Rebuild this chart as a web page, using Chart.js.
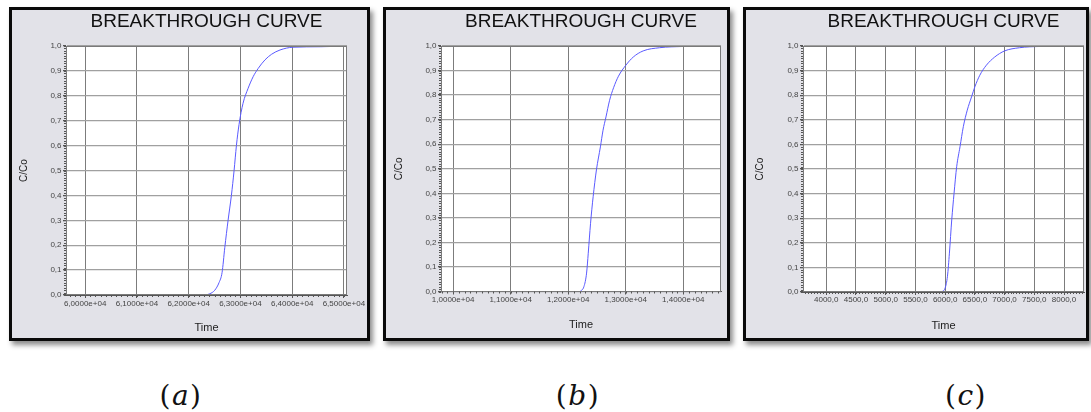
<!DOCTYPE html>
<html>
<head>
<meta charset="utf-8">
<script src="https://cdn.jsdelivr.net/npm/chart.js@4/dist/chart.umd.min.js"></script>
<style>
  html, body { margin:0; padding:0; background:#fff; width:1091px; height:412px; overflow:hidden; }
  .frame { position:absolute; box-sizing:border-box; border:3px solid #0a0a0a; background:#e2e2e8;
           box-shadow:3px 4px 5px rgba(0,0,0,0.45); }
  .frame canvas { position:absolute; left:0; top:0; }
  .cap { position:absolute; font-family:"DejaVu Serif","Liberation Serif",serif; font-size:28px; color:#111;
         transform:translate(-50%,-50%); white-space:nowrap; letter-spacing:1.5px; }
  .cap i { font-style:italic; }
</style>
</head>
<body>
<div class="frame" id="fa" style="left:9px;top:7px;width:361px;height:334px;"><canvas id="ca" width="355" height="328"></canvas></div>
<div class="frame" id="fb" style="left:383px;top:7px;width:347px;height:334px;"><canvas id="cb" width="341" height="328"></canvas></div>
<div class="frame" id="fc" style="left:743px;top:7px;width:346px;height:334px;"><canvas id="cc" width="340" height="328"></canvas></div>
<div class="cap" style="left:181px;top:395px;">(<i>a</i>)</div>
<div class="cap" style="left:578px;top:395px;">(<i>b</i>)</div>
<div class="cap" style="left:966px;top:395px;">(<i>c</i>)</div>
<script>
// ---- data ----
const titleText = "BREAKTHROUGH CURVE";
const yLabel = "C/Co";
const xLabel = "Time";

const timeA = [62250, 62279, 62408, 62504, 62588, 62646, 62698, 62762, 62826, 62878, 62923, 62974, 63051, 63149, 63247, 63344, 63474, 63604, 63766, 64013, 64546, 65050];
const ccoA  = [0, 0, 0.005, 0.019, 0.05, 0.09, 0.19, 0.30, 0.40, 0.50, 0.60, 0.685, 0.77, 0.83, 0.877, 0.91, 0.944, 0.967, 0.984, 0.995, 0.997, 1.0];

const timeB = [12206, 12274, 12320, 12349, 12389, 12434, 12491, 12560, 12606, 12657, 12720, 12789, 12874, 13000, 13131, 13303, 13589, 13989, 14600];
const ccoB  = [0, 0.02, 0.075, 0.156, 0.278, 0.386, 0.495, 0.589, 0.657, 0.711, 0.779, 0.830, 0.877, 0.921, 0.955, 0.980, 0.993, 0.998, 1.0];

const timeC = [5944, 6000, 6039, 6072, 6111, 6150, 6194, 6250, 6306, 6372, 6444, 6500, 6583, 6694, 6833, 7000, 7250, 7583, 8028, 8330];
const ccoC  = [0, 0.016, 0.064, 0.158, 0.293, 0.401, 0.509, 0.59, 0.672, 0.739, 0.793, 0.834, 0.881, 0.922, 0.955, 0.98, 0.993, 0.998, 0.999, 1.0];

const xTicksA = [60000, 61000, 62000, 63000, 64000, 65000];
const xTicksB = [10000, 11000, 12000, 13000, 14000];
const xTicksC = [4000, 4500, 5000, 5500, 6000, 6500, 7000, 7500, 8000];
const yTicks  = [0, 0.1, 0.2, 0.3, 0.4, 0.5, 0.6, 0.7, 0.8, 0.9, 1.0];

const xRangeA = [59630, 65060];
const xRangeB = [9790, 14656];
const xRangeC = [3609, 8336];

// ---- formatting ----
function sci(v) {
  const e = Math.floor(Math.log10(v) + 1e-9);
  const m = v / Math.pow(10, e);
  return m.toFixed(4).replace('.', ',') + 'e+' + String(e).padStart(2, '0');
}
function dec1(v) { return Number(v).toFixed(1).replace('.', ','); }

// ---- plugin: white plot area, outline, minor ticks ----
const framePlugin = {
  id: 'frame',
  beforeDraw(chart) {
    const {ctx, chartArea: a} = chart;
    ctx.save();
    ctx.fillStyle = '#ffffff';
    ctx.fillRect(a.left, a.top, a.right - a.left, a.bottom - a.top);
    ctx.restore();
  },
  afterDraw(chart, args, o) {
    const {ctx, chartArea: a, scales} = chart;
    ctx.save();
    ctx.strokeStyle = '#7a7a7a';
    ctx.lineWidth = 1;
    ctx.strokeRect(Math.round(a.left) + 0.5, Math.round(a.top) + 0.5,
                   Math.round(a.right - a.left) - 1, Math.round(a.bottom - a.top) - 1);
    ctx.strokeStyle = '#555';
    ctx.beginPath();
    const xs = scales.x;
    const i0 = Math.ceil(xs.min / o.xMinor), i1 = Math.floor(xs.max / o.xMinor);
    for (let i = i0; i <= i1; i++) {
      const px = Math.round(xs.getPixelForValue(i * o.xMinor)) + 0.5;
      ctx.moveTo(px, a.bottom); ctx.lineTo(px, a.bottom + 2);
    }
    const ys = scales.y;
    const j1 = Math.round(ys.max / o.yMinor);
    for (let j = 0; j <= j1; j++) {
      const py = Math.round(ys.getPixelForValue(j * o.yMinor)) + 0.5;
      ctx.moveTo(a.left, py); ctx.lineTo(a.left - 2, py);
    }
    ctx.stroke();
    ctx.restore();
  }
};

function makeChart(id, times, vals, xTicks, xRange, fmt, g) {
  const pts = times.map((t, i) => ({x: t, y: vals[i]}));
  return new Chart(document.getElementById(id), {
    type: 'line',
    data: { datasets: [{ data: pts, borderColor: '#5a5aff', borderWidth: 1, pointRadius: 0,
                         cubicInterpolationMode: 'monotone', fill: false }] },
    plugins: [framePlugin],
    options: {
      responsive: false, animation: false, devicePixelRatio: 1,
      layout: { padding: { left: 0, right: g.padRight, top: 0, bottom: 0 } },
      plugins: {
        legend: { display: false },
        tooltip: { enabled: false },
        title: { display: true, text: titleText, fullSize: false, color: '#111',
                 font: { family: 'Liberation Sans, Arial, sans-serif', size: 19, weight: 'normal' },
                 padding: { top: 0, bottom: 13.2 } },
        frame: { xMinor: g.xMinor, yMinor: 0.01 }
      },
      scales: {
        x: {
          type: 'linear', min: xRange[0], max: xRange[1],
          afterBuildTicks: s => { s.ticks = xTicks.map(v => ({value: v})); },
          afterFit: s => { s.height = g.xh; },
          ticks: { callback: v => fmt(v), autoSkip: false, maxRotation: 0, color: '#444',
                   padding: g.xPad, font: { family: 'Liberation Sans, Arial, sans-serif', size: 8 } },
          grid: { color: '#7c7c7c', lineWidth: 1, tickLength: 3, tickColor: '#555' },
          border: { color: '#555' },
          title: { display: true, text: xLabel, color: '#222',
                   font: { family: 'Liberation Sans, Arial, sans-serif', size: 11 },
                   padding: { top: 0, bottom: g.tPad } }
        },
        y: {
          type: 'linear', min: 0, max: 1,
          afterBuildTicks: s => { s.ticks = yTicks.map(v => ({value: v})); },
          afterFit: s => { s.width = g.yw; },
          ticks: { callback: v => dec1(v), color: '#444', padding: 1.5,
                   font: { family: 'Liberation Sans, Arial, sans-serif', size: 8 } },
          grid: { color: '#a0a0a0', lineWidth: 1.3, tickLength: 3, tickColor: '#555' },
          border: { color: '#555' },
          title: { display: true, text: yLabel, color: '#222',
                   font: { family: 'Liberation Sans, Arial, sans-serif', size: 10 },
                   padding: { top: g.yTPad, bottom: 0 } }
        }
      }
    }
  });
}

makeChart('ca', timeA, ccoA, xTicksA, xRangeA, sci,
  { padRight: 20, yw: 54, xh: 43, xPad: 1, tPad: 3.4, yTPad: 6, xMinor: 100 });
makeChart('cb', timeB, ccoB, xTicksB, xRangeB, sci,
  { padRight: 6, yw: 55, xh: 46.5, xPad: 0, tPad: 6.4, yTPad: 7, xMinor: 100 });
makeChart('cc', timeC, ccoC, xTicksC, xRangeC, dec1,
  { padRight: 2, yw: 57, xh: 46, xPad: 0, tPad: 5.4, yTPad: 8, xMinor: 50 });
</script>
</body>
</html>
